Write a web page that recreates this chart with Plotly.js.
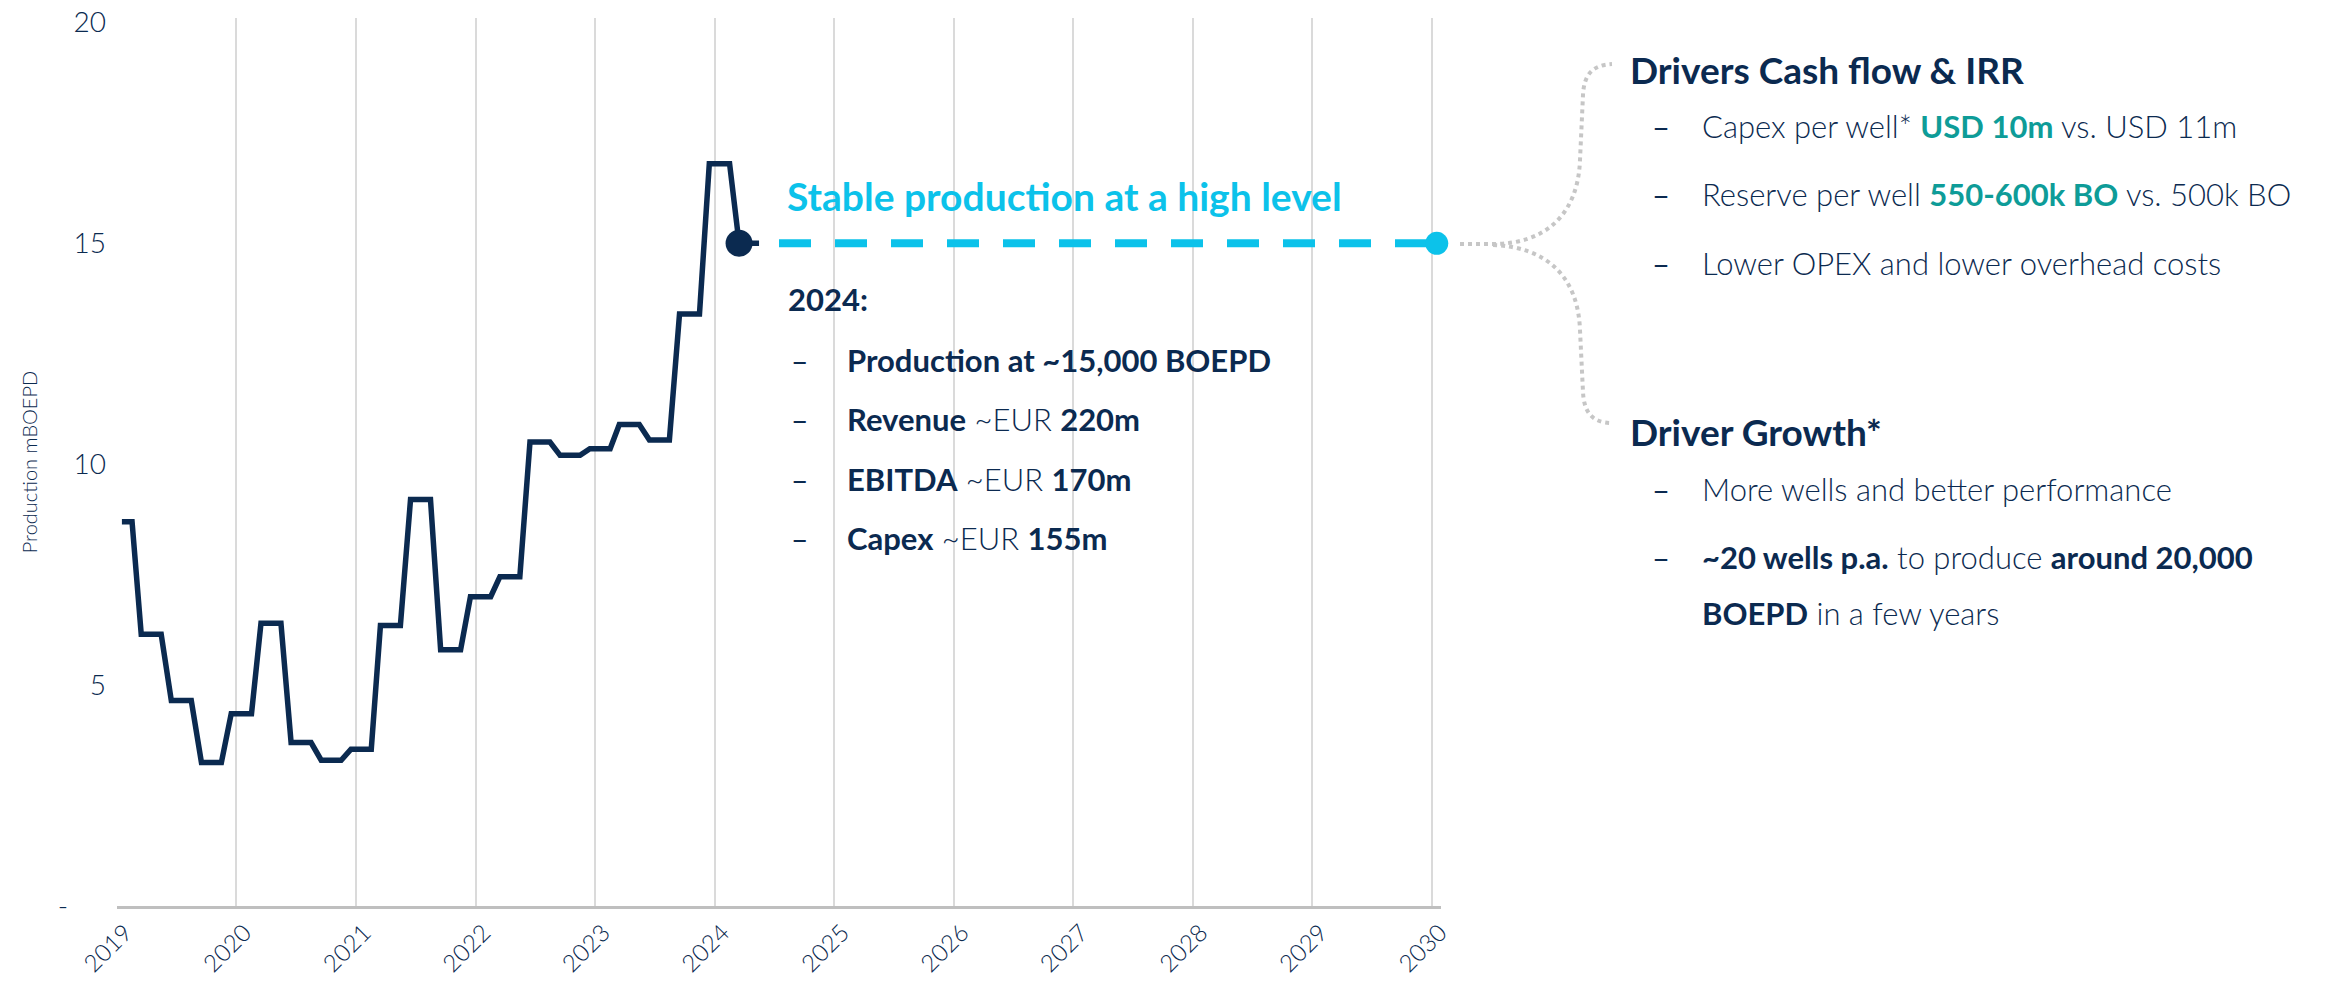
<!DOCTYPE html>
<html>
<head>
<meta charset="utf-8">
<script src="https://cdn.plot.ly/plotly-3.0.1.min.js"></script>
<style>html,body{margin:0;padding:0;background:#ffffff;}</style>
</head>
<body>
<div id="chart" style="width:2346px;height:989px;"></div>
<script>
// ---------- data ----------
const months = [
  '2019-01','2019-02','2019-03','2019-04','2019-05','2019-06','2019-07','2019-08','2019-09','2019-10','2019-11','2019-12',
  '2020-01','2020-02','2020-03','2020-04','2020-05','2020-06','2020-07','2020-08','2020-09','2020-10','2020-11','2020-12',
  '2021-01','2021-02','2021-03','2021-04','2021-05','2021-06','2021-07','2021-08','2021-09','2021-10','2021-11','2021-12',
  '2022-01','2022-02','2022-03','2022-04','2022-05','2022-06','2022-07','2022-08','2022-09','2022-10','2022-11','2022-12',
  '2023-01','2023-02','2023-03','2023-04','2023-05','2023-06','2023-07','2023-08','2023-09','2023-10','2023-11','2023-12',
  '2024-01','2024-02','2024-03','2024-04','2024-05'
];
const production = [
  8.7, 8.7, 6.15, 6.15, 6.15, 4.65, 4.65, 4.65, 3.25, 3.25, 3.25, 4.35,
  4.35, 4.35, 6.4, 6.4, 6.4, 3.7, 3.7, 3.7, 3.3, 3.3, 3.3, 3.55,
  3.55, 3.55, 6.35, 6.35, 6.35, 9.2, 9.2, 9.2, 5.8, 5.8, 5.8, 7.0,
  7.0, 7.0, 7.45, 7.45, 7.45, 10.5, 10.5, 10.5, 10.2, 10.2, 10.2, 10.35,
  10.35, 10.35, 10.9, 10.9, 10.9, 10.55, 10.55, 10.55, 13.4, 13.4, 13.4, 16.8,
  16.8, 16.8, 15.0, 15.0, 15.0
];
const currentMonth = '2024-03';
const outlookMonths = ['2024-07', '2030-01'];
const outlookValues = [15, 15];

const yearTicks = ['2019','2020','2021','2022','2023','2024','2025','2026','2027','2028','2029','2030'];
const yTickValues = [0, 5, 10, 15, 20];
const yTickLabels = ['-\u00a0\u00a0\u00a0\u00a0\u00a0', '5', '10', '15', '20'];

const headline = 'Stable production at a high level';
const yearHeading = '2024:';
const kpiBullets = [
  '<b>Production at ~15,000 BOEPD</b>',
  '<b>Revenue</b> ~EUR <b>220m</b>',
  '<b>EBITDA</b> ~EUR <b>170m</b>',
  '<b>Capex</b> ~EUR <b>155m</b>'
];
const cashHeading = 'Drivers Cash flow & IRR';
const cashBullets = [
  'Capex per well* <b><span style="color:#0E9C98">USD 10m</span></b> vs. USD 11m',
  'Reserve per well <b><span style="color:#0E9C98">550-600k BO</span></b> vs. 500k BO',
  'Lower OPEX and lower overhead costs'
];
const growthHeading = 'Driver Growth*';
const growthBullets = [
  ['More wells and better performance'],
  ['<b>~20 wells p.a.</b> to produce <b>around 20,000</b>', '<b>BOEPD</b> in a few years']
];

// ---------- style ----------
const NAVY = '#0B2A50';
const CYAN = '#0CC2EA';
const GREY_DOT = '#C6C6C6';
const FONT = 'Lato, "Open Sans", sans-serif';

// plot frame (pixels) used to place the text blocks
const L = 117, R = 1441, T = 18, B = 906;
const px = x => (x - L) / (R - L);
const py = y => (B - y) / (B - T);

const traces = [
  {
    type: 'scatter', mode: 'lines+markers', cliponaxis: false,
    x: months.map(m => m + '-16'),
    y: production,
    line: {color: NAVY, width: 5.5, shape: 'linear'},
    marker: {color: NAVY, opacity: 1, size: months.map(m => m === currentMonth ? 27 : 0), line: {width: 0}},
    hoverinfo: 'x+y', showlegend: false
  },
  {
    type: 'scatter', mode: 'lines+markers', cliponaxis: false,
    x: outlookMonths.map(m => m + '-16'),
    y: outlookValues,
    line: {color: CYAN, width: 8, dash: '32px,24px'},
    marker: {color: CYAN, opacity: 1, size: [0, 23], line: {width: 0}},
    hoverinfo: 'x+y', showlegend: false
  }
];

const annotations = [];
function note(text, x, y, size, color, weight) {
  annotations.push({
    xref: 'paper', yref: 'paper', x: px(x), y: py(y),
    xanchor: 'left', yanchor: 'middle', showarrow: false, align: 'left',
    text: text, font: {family: FONT, size: size, color: color, weight: weight}
  });
}
// left block
note(headline, 785, 196, 39, CYAN, 700);
note(yearHeading, 786, 299, 31, NAVY, 700);
const kpiRows = [360, 419, 479, 538];
kpiBullets.forEach((t, i) => {
  note('\u2013', 789, kpiRows[i], 30, NAVY, 400);
  note(t, 845, kpiRows[i], 31, NAVY, 300);
});
// right block
note(cashHeading, 1628, 70, 37, NAVY, 700);
const cashRows = [126, 194, 263];
cashBullets.forEach((t, i) => {
  note('\u2013', 1650, cashRows[i], 31, NAVY, 400);
  note(t, 1700, cashRows[i], 31, NAVY, 300);
});
note(growthHeading, 1628, 431, 37, NAVY, 700);
const growthRows = [[489], [557, 613]];
growthBullets.forEach((lines, i) => {
  note('\u2013', 1650, growthRows[i][0], 31, NAVY, 400);
  lines.forEach((t, j) => note(t, 1700, growthRows[i][j], 31, NAVY, 300));
});

// dotted connector (pixel path converted to paper coordinates)
function pathFrom(cmds) {
  return cmds.map(c => c[0] + ' ' + c.slice(1).map((v, k) => (k % 2 === 0 ? px(v) : py(v)).toFixed(5)).join(',')).join(' ');
}
const upper = pathFrom([
  ['M', 1460, 244], ['L', 1493, 244],
  ['C', 1545, 244, 1578, 215, 1580, 160], ['L', 1583, 95],
  ['C', 1584, 75, 1592, 65, 1612, 64]
]);
const lower = pathFrom([
  ['M', 1493, 245],
  ['C', 1545, 247, 1578, 275, 1580, 330], ['L', 1583, 392],
  ['C', 1584, 412, 1592, 423, 1612, 423]
]);
const shapes = [upper, lower].map(p => ({
  type: 'path', xref: 'paper', yref: 'paper', path: p,
  line: {color: GREY_DOT, width: 4, dash: 'dot'}, layer: 'above'
}));

const layout = {
  width: 2346, height: 989,
  margin: {l: L, r: 2346 - R, t: T, b: 989 - B, pad: 0},
  paper_bgcolor: '#ffffff', plot_bgcolor: '#ffffff',
  font: {family: FONT, color: NAVY},
  showlegend: false,
  xaxis: {
    type: 'date',
    range: ['2019-01-01', '2030-01-29'],
    tickmode: 'array',
    tickvals: yearTicks.map(y => y + '-01-01'),
    ticktext: yearTicks,
    tickangle: -45,
    ticklabelshift: 8,
    ticklabelstandoff: 0,
    tickfont: {family: FONT, size: 24, color: NAVY, weight: 300},
    showgrid: true, gridcolor: '#DADADA', gridwidth: 2,
    showline: true, linecolor: '#BFBFBF', linewidth: 3,
    zeroline: false, ticks: '', fixedrange: true
  },
  yaxis: {
    range: [0, 20.1],
    tickmode: 'array',
    tickvals: yTickValues,
    ticktext: yTickLabels,
    tickfont: {family: FONT, size: 28, color: NAVY, weight: 300},
    ticklabelstandoff: 10,
    showgrid: false, showline: false, zeroline: false, ticks: '',
    title: {text: 'Production mBOEPD', font: {family: FONT, size: 20, color: NAVY, weight: 300}, standoff: 14},
    fixedrange: true
  },
  annotations: annotations,
  shapes: shapes
};

Plotly.newPlot('chart', traces, layout, {displayModeBar: false, responsive: false});
</script>
</body>
</html>
